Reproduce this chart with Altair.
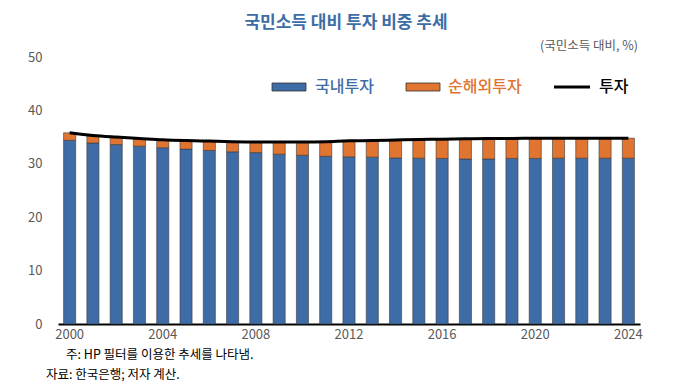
import altair as alt
import pandas as pd

years = list(range(2000, 2025))
domestic = [34.4, 33.9, 33.6, 33.3, 33.0, 32.75, 32.5, 32.25, 32.1, 31.8, 31.6, 31.4,
            31.3, 31.25, 31.1, 31.05, 31.0, 30.9, 30.9, 31.0, 31.0, 31.05, 31.05, 31.05, 31.05]
net_overseas = [1.4, 1.3, 1.3, 1.4, 1.4, 1.55, 1.7, 1.85, 1.95, 2.25, 2.45, 2.7,
                2.95, 3.05, 3.3, 3.45, 3.55, 3.7, 3.8, 3.7, 3.75, 3.75, 3.75, 3.75, 3.75]
investment = [35.8, 35.3, 35.0, 34.75, 34.5, 34.35, 34.25, 34.15, 34.1, 34.1, 34.1, 34.15,
              34.3, 34.35, 34.45, 34.55, 34.6, 34.7, 34.75, 34.75, 34.8, 34.8, 34.8, 34.8, 34.8]

series_names = ["국내투자", "순해외투자"]
BLUE = "#3e6ca6"
ORANGE = "#e07431"
FONT = "Noto Sans CJK KR"

rows = []
for y, d, o in zip(years, domestic, net_overseas):
    rows.append({"year": y, "series": series_names[0], "value": d, "order": 0})
    rows.append({"year": y, "series": series_names[1], "value": o, "order": 1})
bars_df = pd.DataFrame(rows)
line_df = pd.DataFrame({"year": years, "value": investment})

x_scale = alt.Scale(paddingInner=0.48, paddingOuter=0.24)
x_axis = alt.Axis(
    title=None, labelAngle=0, ticks=False, domainColor="black", domainWidth=2,
    labelExpr="datum.value % 4 == 0 ? datum.label : ''", labelColor="#595959",
    labelFontSize=13, labelFont=FONT, labelPadding=4, labelOverlap=False,
)
y_axis = alt.Axis(
    title=None, values=[0, 10, 20, 30, 40, 50], grid=False, domain=False, ticks=False,
    labelColor="#595959", labelFontSize=13, labelFont=FONT, labelPadding=16,
)

bars = alt.Chart(bars_df).mark_bar(stroke="#3a3a3a", strokeWidth=0.6).encode(
    x=alt.X("year:O", scale=x_scale, axis=x_axis),
    y=alt.Y("value:Q", stack="zero", scale=alt.Scale(domain=[0, 50]), axis=y_axis),
    color=alt.Color("series:N", scale=alt.Scale(domain=series_names, range=[BLUE, ORANGE]), legend=None),
    order=alt.Order("order:Q"),
)

line = alt.Chart(line_df).mark_line(color="black", strokeWidth=3, interpolate="monotone").encode(
    x=alt.X("year:O", scale=x_scale, bandPosition=0.5),
    y=alt.Y("value:Q"),
)

one = pd.DataFrame({"k": [0]})

def txt(text, x, y, size, color, align="left", weight="normal"):
    return alt.Chart(one).mark_text(
        align=align, baseline="middle", fontSize=size, font=FONT, color=color, fontWeight=weight
    ).encode(x=alt.value(x), y=alt.value(y), text=alt.value(text))

def box(x1, x2, color):
    return alt.Chart(one).mark_rect(color=color, stroke="#333333", strokeWidth=0.8).encode(
        x=alt.value(x1), x2=alt.value(x2), y=alt.value(26), y2=alt.value(34))

title = txt("국민소득 대비 투자 비중 추세", 288, -34, 17, "#3d6da6", align="center", weight="bold")
unit = txt("(국민소득 대비, %)", 580, -11, 12.5, "#595959", align="right")
leg1b = box(214, 248, BLUE)
leg1t = txt(series_names[0], 257, 30, 16, BLUE, weight=500)
leg2b = box(348, 382, ORANGE)
leg2t = txt(series_names[1], 390, 30, 16, ORANGE, weight=500)
leg3l = alt.Chart(one).mark_rule(color="black", strokeWidth=3).encode(
    x=alt.value(496), x2=alt.value(532), y=alt.value(30))
leg3t = txt("투자", 541, 30, 16, "black", weight=500)
note1 = txt("주: HP 필터를 이용한 추세를 나타냄.", 8, 298, 12.5, "black")
note2 = txt("자료: 한국은행; 저자 계산.", -12, 318, 12.5, "black")

chart = alt.layer(
    bars, line, title, unit, leg1b, leg1t, leg2b, leg2t, leg3l, leg3t, note1, note2
).properties(
    width=582, height=267,
    autosize=alt.AutoSizeParams(type="none"),
    padding={"left": 50, "top": 49, "right": 30, "bottom": 62},
).configure_view(stroke=None)

chart.save("out.html", embed_options={"renderer": "svg", "actions": False})
